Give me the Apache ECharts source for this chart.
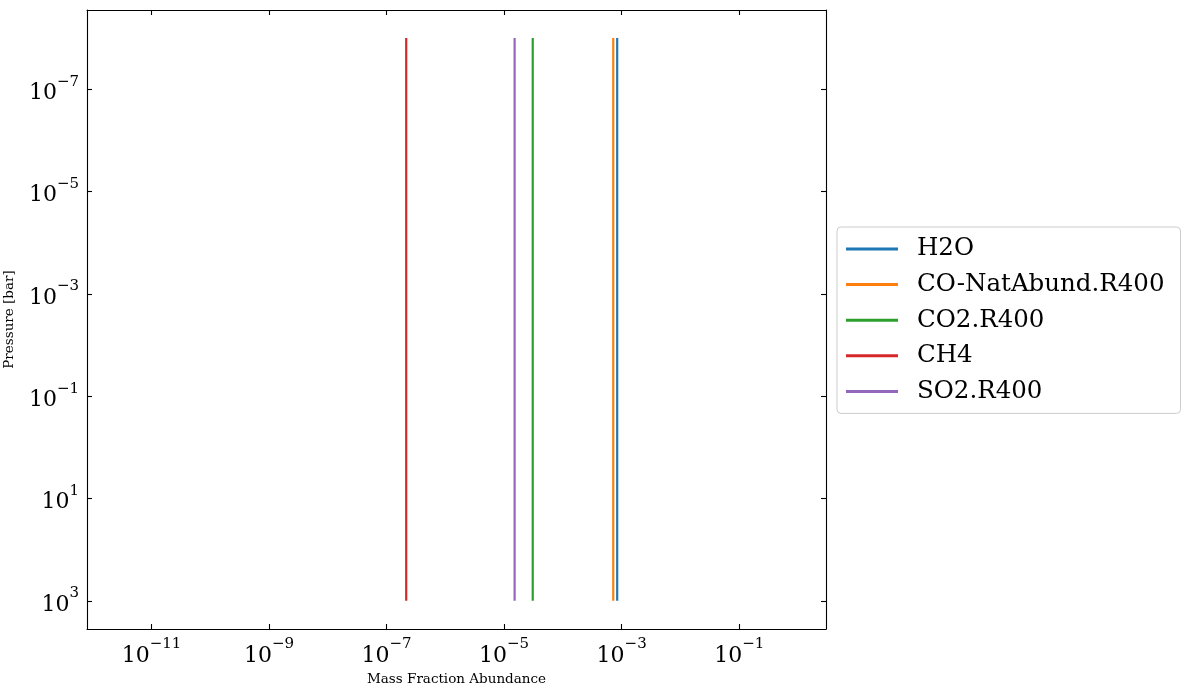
<!DOCTYPE html>
<html>
<head>
<meta charset="utf-8">
<title>Mass fraction abundance</title>
<script src="https://cdn.jsdelivr.net/npm/echarts@6/dist/echarts.min.js"></script>
<style>
  html, body { margin: 0; padding: 0; background: #fff; }
  #main { width: 1189px; height: 690px; }
</style>
</head>
<body>
<div id="main"></div>
<script>
// species and their (constant) mass fraction abundance
const species = ['H2O', 'CO-NatAbund.R400', 'CO2.R400', 'CH4', 'SO2.R400'];
const abundance = [8.4e-4, 7.2e-4, 3.07e-5, 2.16e-7, 1.51e-5];
const pressure = [1e-8, 1e3]; // top and bottom of the profile, bar
const colors = ['#1f77b4', '#ff7f0e', '#2ca02c', '#d62728', '#9467bd'];

const xTicks = [1e-11, 1e-9, 1e-7, 1e-5, 1e-3, 1e-1];
const yTicks = [1e-7, 1e-5, 1e-3, 1e-1, 1e1, 1e3];
const xRange = [8e-13, 3];
const yRange = [2.82e-9, 3548];

const font = 'DejaVu Serif';
const chart = echarts.init(document.getElementById('main'));

function powLabel(v) {
    const e = Math.round(Math.log10(v));
    return '{b|10}{s|' + (e < 0 ? '\u2212' + (-e) : e) + '}';
}
const labelRich = {
    b: { fontFamily: font, fontSize: 22, color: '#000', verticalAlign: 'bottom', lineHeight: 30 },
    s: { fontFamily: font, fontSize: 15, color: '#000', verticalAlign: 'top', lineHeight: 15 }
};

function makeAxis(pos, ticks, range, showLabel, extra) {
    return Object.assign({
        type: 'log',
        logBase: 10,
        position: pos,
        min: range[0],
        max: range[1],
        splitLine: { show: false },
        axisLine: { show: true, onZero: false, lineStyle: { color: '#000', width: 1.1 } },
        axisTick: { show: true, inside: true, length: 5, customValues: ticks, lineStyle: { color: '#000', width: 1.1 } },
        minorTick: { show: false },
        axisLabel: {
            show: showLabel,
            customValues: ticks,
            formatter: powLabel,
            rich: labelRich,
            margin: 8
        }
    }, extra || {});
}

const series = species.map(function (name, i) {
    return {
        name: name,
        type: 'line',
        symbol: 'none',
        color: colors[i],
        lineStyle: { width: 2.2, color: colors[i] },
        data: pressure.map(function (p) { return [abundance[i], p]; })
    };
});

chart.setOption({
    animation: false,
    grid: { left: 87, right: 363, top: 10, bottom: 61, containLabel: false, outerBoundsMode: 'none' },
    xAxis: [
        makeAxis('bottom', xTicks, xRange, true, {
            name: 'Mass Fraction Abundance',
            nameLocation: 'middle',
            nameGap: 43,
            nameTextStyle: { fontFamily: font, fontSize: 13.5, color: '#000' }
        }),
        makeAxis('top', xTicks, xRange, false)
    ],
    yAxis: [
        makeAxis('left', yTicks, yRange, true, {
            inverse: true,
            name: 'Pressure [bar]',
            nameLocation: 'middle',
            nameGap: 71,
            nameTextStyle: { fontFamily: font, fontSize: 13.5, color: '#000' }
        }),
        makeAxis('right', yTicks, yRange, false, { inverse: true })
    ],
    legend: {
        orient: 'vertical',
        left: 837,
        top: 227,
        padding: [8, 16, 8, 9],
        itemGap: 7.6,
        itemWidth: 52,
        itemHeight: 3,
        icon: 'rect',
        borderColor: '#cccccc',
        borderWidth: 1,
        borderRadius: 4,
        backgroundColor: '#fff',
        textStyle: { fontFamily: font, fontSize: 24.5, color: '#000', lineHeight: 28, padding: [0, 0, 0, 14] },
        data: species
    },
    series: series
});
</script>
</body>
</html>
